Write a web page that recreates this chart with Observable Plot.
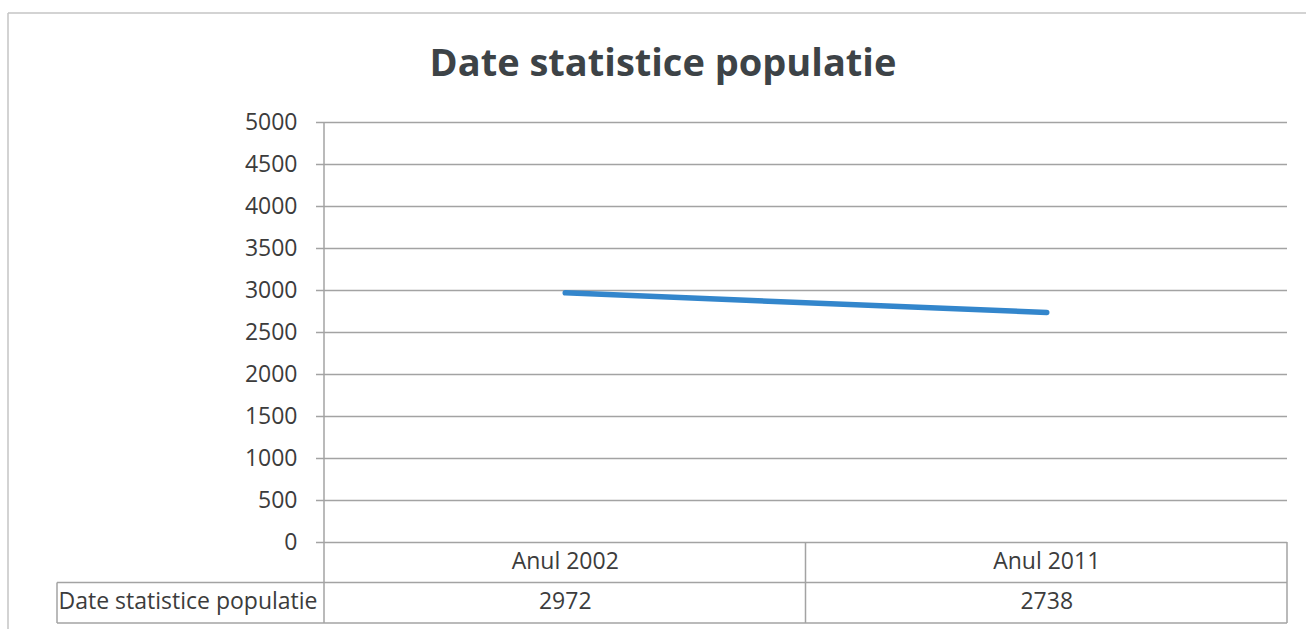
<!DOCTYPE html>
<html><head><meta charset="utf-8">
<script src="https://cdn.jsdelivr.net/npm/d3@7"></script>
<script src="https://cdn.jsdelivr.net/npm/@observablehq/plot@0.6"></script>
<style>
body{margin:0;background:#fff;}
#wrap{position:relative;width:1306px;height:629px;overflow:hidden;background:#fff}
#title{position:absolute;left:0;width:1326px;top:35px;text-align:center;font:bold 38px "Open Sans",sans-serif;color:#3d4347;white-space:nowrap}
svg{position:absolute;left:0;top:0}
</style></head><body><div id="wrap"><div id="title"></div></div>
<script>
const categories = ["Anul 2002", "Anul 2011"];
const population = [2972, 2738];
const seriesName = "Date statistice populatie";
const titleText = "Date statistice populatie";
const yTicks = [0, 500, 1000, 1500, 2000, 2500, 3000, 3500, 4000, 4500, 5000];

const data = categories.map((c, i) => ({cat: c, idx: i + 0.5, value: population[i], label: String(population[i])}));
const grid = "#a3a3a3", ink = "#3c3c3c";
const font = '"Open Sans", sans-serif';
const rowH = 40.5;

function tableFrame(index, scales, values, dims) {
  const {x, y} = scales;
  const left = x(0), mid = x(1), right = x(categories.length);
  const top = y(0), yTop = y(5000);
  const g = d3.create("svg:g").attr("fill", "none").attr("stroke", grid).attr("stroke-width", 1.5);
  const L = (x1, y1, x2, y2) => g.append("line").attr("x1", x1).attr("y1", y1).attr("x2", x2).attr("y2", y2);
  L(left - 267, top + rowH, right, top + rowH);
  L(left - 267, top + 2 * rowH, right, top + 2 * rowH);
  L(left, yTop, left, top + 2 * rowH);
  L(mid, top, mid, top + 2 * rowH);
  L(right, top, right, top + 2 * rowH);
  L(left - 267, top + rowH, left - 267, top + 2 * rowH);
  // outer chart border
  g.append("line").attr("x1", 8).attr("y1", 13).attr("x2", dims.width).attr("y2", 13).attr("stroke", "#c4c4c4");
  g.append("line").attr("x1", 8).attr("y1", 13).attr("x2", 8).attr("y2", dims.height).attr("stroke", "#c4c4c4");
  return g.node();
}

document.getElementById("title").textContent = titleText;

const chart = Plot.plot({
  width: 1306,
  height: 629,
  marginLeft: 324,
  marginRight: 19,
  marginTop: 122,
  marginBottom: 87,
  style: {fontFamily: font, background: "transparent"},
  x: {domain: [0, categories.length], axis: null},
  y: {domain: [0, 5000], axis: null},
  marks: [
    Plot.ruleY(yTicks, {stroke: grid, strokeWidth: 1.5}),
    Plot.axisY(yTicks, {tickSize: 8, tickPadding: 19, fontSize: 23, fill: ink, stroke: grid, strokeWidth: 1.5, label: null, tickFormat: d => String(d)}),
    tableFrame,
    Plot.text(data, {x: "idx", text: "cat", frameAnchor: "bottom", dy: 26, fontSize: 23, fill: ink}),
    Plot.text(data, {x: "idx", text: "label", frameAnchor: "bottom", dy: 66, fontSize: 23, fill: ink}),
    Plot.text([seriesName], {x: () => 0, text: d => d, frameAnchor: "bottom", dy: 66, dx: -7, textAnchor: "end", fontSize: 23, fill: ink}),
    Plot.line(data, {x: "idx", y: "value", stroke: "#3386cc", strokeWidth: 5.5, strokeLinecap: "round"})
  ]
});
document.getElementById("wrap").appendChild(chart);
</script>
</body></html>
